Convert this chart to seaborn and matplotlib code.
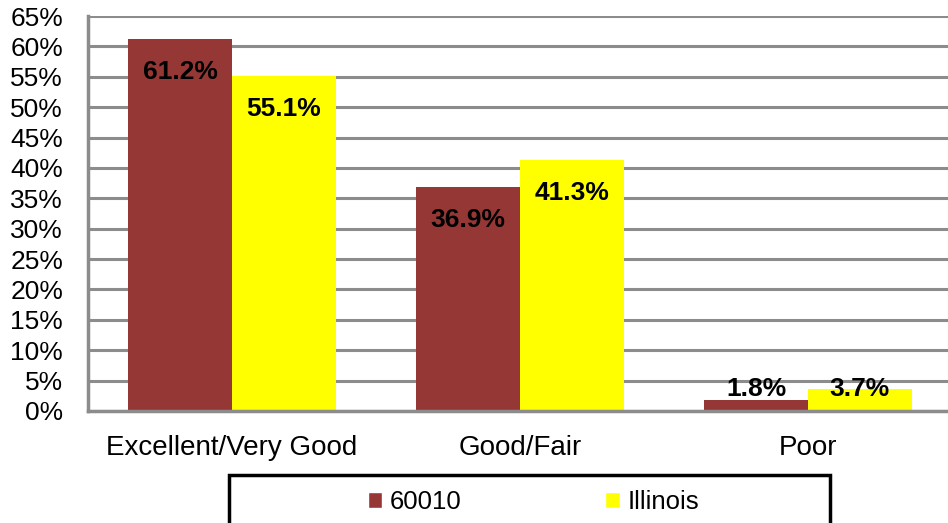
import pandas as pd
import seaborn as sns
import matplotlib.pyplot as plt
from matplotlib.patches import Rectangle

categories = ["Excellent/Very Good", "Good/Fair", "Poor"]
series_names = ["60010", "Illinois"]
values_60010 = [61.2, 36.9, 1.8]
values_illinois = [55.1, 41.3, 3.7]
bar_colors = ["#953735", "#FFFF00"]
y_ticks = list(range(0, 70, 5))

df = pd.DataFrame({
    "Category": categories * 2,
    "Series": [series_names[0]] * 3 + [series_names[1]] * 3,
    "Value": values_60010 + values_illinois,
})

sns.set_style("white")
plt.rcParams["font.family"] = ["Liberation Sans", "DejaVu Sans"]
plt.rcParams["text.color"] = "black"
GRID = "#8C8C8C"

fig = plt.figure(figsize=(9.48, 5.23), dpi=100)
ax = fig.add_axes([88 / 948, 112 / 523, 864 / 948, 395 / 523])

sns.barplot(
    data=df, x="Category", y="Value", hue="Series",
    palette=bar_colors, width=0.72, gap=0, saturation=1,
    ax=ax, legend=False, edgecolor="none",
)

ax.set_xlim(-0.5, 2.5)
ax.set_ylim(0, 65)
ax.set_yticks(y_ticks)
ax.set_yticklabels([f"{t}%" for t in y_ticks], fontsize=19)
ax.set_xticks(range(len(categories)))
ax.set_xticklabels(categories, fontsize=20)
ax.set_xticks([-0.5, 0.5, 1.5, 2.5], minor=True)
ax.tick_params(axis="x", which="major", length=0, pad=17, labelcolor="black")
ax.tick_params(axis="x", which="minor", length=6, width=2.2, color=GRID, direction="out")
ax.tick_params(axis="y", length=6, width=2.2, color=GRID, pad=12, labelcolor="black")
ax.set_xlabel("")
ax.set_ylabel("")

ax.set_axisbelow(True)
ax.yaxis.grid(True, color=GRID, linewidth=2.2)
ax.xaxis.grid(False)
for side in ["top", "right"]:
    ax.spines[side].set_visible(False)
for side in ["left", "bottom"]:
    ax.spines[side].set_color(GRID)
    ax.spines[side].set_linewidth(2.5)

# data labels: inside end, or sitting on the axis when the bar is too short
for cont in ax.containers:
    for bar in cont:
        h = bar.get_height()
        cx = bar.get_x() + bar.get_width() / 2
        if h > 10:
            ax.annotate(f"{h:.1f}%", (cx, h), xytext=(0, -24), textcoords="offset points",
                        ha="center", va="center", fontsize=19, fontweight="bold", color="black")
        else:
            ax.annotate(f"{h:.1f}%", (cx, 0), xytext=(0, 16), textcoords="offset points",
                        ha="center", va="center", fontsize=19, fontweight="bold", color="black")

# legend with a wide framed box below the plot
fig.patches.append(Rectangle((229 / 948, -6 / 523), 601 / 948, 54 / 523,
                             transform=fig.transFigure, fill=False,
                             edgecolor="black", linewidth=2.5))
handles = [Rectangle((0, 0), 1, 1, facecolor=c) for c in bar_colors]
fig.legend(handles, series_names, loc="center left", ncol=2,
           bbox_to_anchor=(368 / 948, 21 / 523), frameon=False, fontsize=18.5,
           handlelength=0.55, handleheight=0.55, handletextpad=0.3,
           columnspacing=5.6, borderpad=0, borderaxespad=0, labelcolor="black")

fig.savefig("out.png", dpi=100)
